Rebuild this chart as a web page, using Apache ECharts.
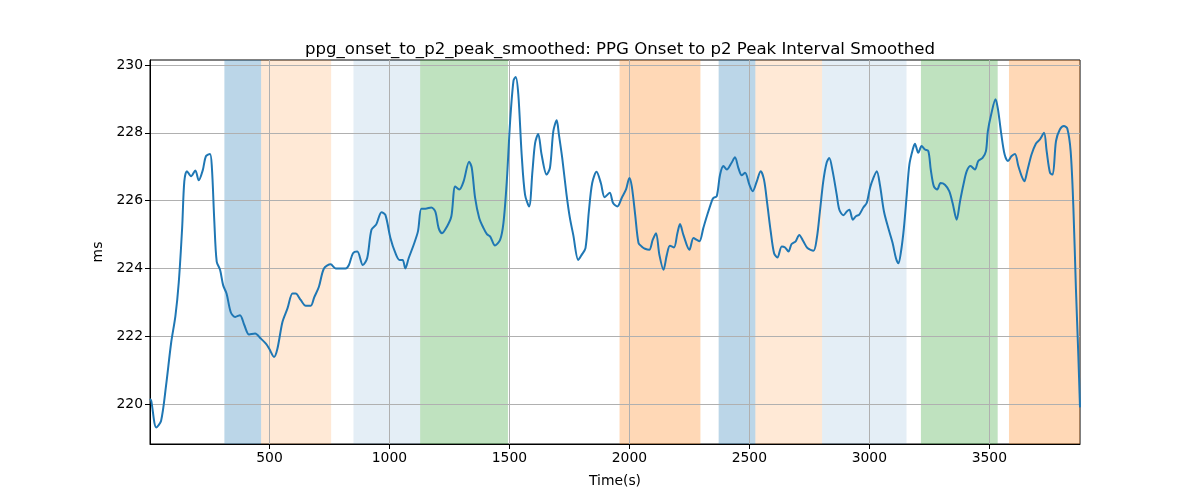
<!DOCTYPE html>
<html>
<head>
<meta charset="utf-8">
<script src="https://cdn.jsdelivr.net/npm/echarts@6/dist/echarts.min.js"></script>
<style>
html,body{margin:0;padding:0;background:#fff;}
#chart{width:1200px;height:500px;}
</style>
</head>
<body>
<div id="chart"></div>
<script>
// ---- data ----
const times = [2,7,28,48,69,90,108,122,136,145,156,173,191,205,222,235,252,260,270,280,294,307,321,339,357,377,395,415,440,464,485,499,519,533,554,575,596,609,630,651,672,686,706,727,755,776,817,831,848,866,889,907,925,945,967,983,1004,1025,1042,1055,1066,1080,1101,1119,1133,1150,1174,1191,1205,1219,1240,1258,1274,1291,1309,1332,1343,1357,1374,1392,1406,1420,1440,1461,1475,1489,1503,1517,1526,1537,1551,1565,1582,1596,1607,1620,1634,1655,1669,1683,1697,1706,1720,1738,1752,1766,1787,1801,1817,1831,1845,1863,1881,1897,1918,1932,1950,1968,1986,2000,2010,2024,2038,2051,2065,2083,2097,2111,2125,2142,2156,2169,2186,2200,2211,2225,2250,2267,2281,2292,2308,2325,2343,2350,2364,2378,2392,2406,2426,2440,2454,2468,2482,2500,2514,2531,2547,2561,2575,2589,2603,2617,2635,2649,2663,2676,2693,2708,2725,2742,2767,2781,2794,2808,2822,2833,2847,2864,2875,2892,2906,2917,2931,2944,2958,2975,2989,3003,3017,3031,3044,3061,3079,3097,3111,3121,3132,3144,3156,3167,3181,3190,3204,3218,3232,3246,3256,3269,3283,3297,3315,3333,3347,3364,3378,3392,3406,3422,3440,3454,3472,3486,3494,3508,3526,3536,3550,3564,3578,3592,3607,3621,3635,3646,3658,3676,3694,3711,3728,3739,3753,3764,3778,3794,3811,3825,3839,3850,3861,3871,3878];
const values = [220.15,220.1,219.31,219.5,220.55,221.8,222.6,223.6,225.2,226.57,226.87,226.72,226.89,226.6,226.9,227.31,227.38,226.97,225.4,224.2,223.96,223.5,223.26,222.7,222.57,222.62,222.33,222.05,222.08,221.93,221.78,221.63,221.39,221.63,222.42,222.82,223.26,223.26,223.07,222.9,222.9,223.14,223.46,224.0,224.12,224.0,224.0,224.1,224.45,224.5,224.1,224.3,225.14,225.3,225.66,225.58,224.9,224.45,224.25,224.25,224.0,224.3,224.7,225.1,225.76,225.76,225.8,225.68,225.19,225.04,225.24,225.54,226.42,226.33,226.57,227.15,226.97,226.08,225.49,225.19,225.01,224.94,224.68,224.84,225.34,226.57,228.35,229.54,229.65,229.14,227.36,226.18,225.83,226.87,227.7,227.97,227.36,226.77,226.97,228.05,228.37,227.96,227.26,226.18,225.49,224.99,224.25,224.4,224.6,225.68,226.52,226.85,226.52,226.1,226.23,225.93,225.83,226.08,226.33,226.67,226.42,225.59,224.75,224.65,224.58,224.55,224.84,225.04,224.4,223.96,224.4,224.67,224.62,225.04,225.31,224.99,224.55,224.9,224.84,224.8,225.19,225.59,225.98,226.08,226.13,226.77,227.02,226.92,227.12,227.28,226.97,226.75,226.82,226.47,226.28,226.57,226.87,226.62,225.88,225.09,224.45,224.32,224.65,224.62,224.5,224.72,224.8,224.99,224.8,224.6,224.52,224.89,225.68,226.57,227.12,227.26,226.87,226.18,225.73,225.57,225.68,225.73,225.44,225.54,225.59,225.8,225.93,226.38,226.67,226.87,226.47,225.68,225.19,224.75,224.3,224.15,224.5,225.19,226.18,227.07,227.51,227.68,227.41,227.61,227.51,227.46,226.92,226.42,226.33,226.52,226.47,226.28,225.93,225.44,225.98,226.47,226.87,227.02,226.92,227.17,227.26,227.46,228.05,228.55,228.99,228.7,227.96,227.36,227.17,227.31,227.38,227.02,226.72,226.57,226.87,227.36,227.68,227.81,228.0,227.46,226.82,226.77,227.76,228.1,228.2,228.13,227.46,225.88,223.41,221.44,219.9];
const bandStarts = [312,465,850,1128,1959,2372,2525,2803,3215,3582];
const bandEnds   = [465,757,1128,1494,2296,2525,2803,3155,3535,3878];
const bandColors = ['rgba(31,119,180,0.3)','rgba(255,127,14,0.17)','rgba(31,119,180,0.12)','rgba(44,160,44,0.3)','rgba(255,127,14,0.3)','rgba(31,119,180,0.3)','rgba(255,127,14,0.17)','rgba(31,119,180,0.12)','rgba(44,160,44,0.3)','rgba(255,127,14,0.3)'];
const xTicks = [500,1000,1500,2000,2500,3000,3500];
const yTicks = [220,222,224,226,228,230];
const titleText = 'ppg_onset_to_p2_peak_smoothed: PPG Onset to p2 Peak Interval Smoothed';

// ---- chart ----
const chart = echarts.init(document.getElementById('chart'), null, {renderer:'canvas'});
const font = 'DejaVu Sans';
const areas = bandStarts.map((s,i)=>[{xAxis:s,itemStyle:{color:bandColors[i]}},{xAxis:bandEnds[i]}]);
chart.setOption({
  animation:false,
  backgroundColor:'#fff',
  title:{text:titleText,left:615,textAlign:'center',top:36,textStyle:{fontFamily:font,fontSize:16.6,fontWeight:'normal',color:'#000'}},
  grid:{left:150,right:120,top:60,bottom:56,show:true,borderColor:'#000',borderWidth:1,backgroundColor:'transparent',z:0},
  xAxis:{type:'value',min:2,max:3878,z:2,name:'Time(s)',nameLocation:'middle',nameGap:30,
    nameTextStyle:{fontFamily:font,fontSize:13.9,color:'#000'},
    axisLine:{show:true,onZero:false,lineStyle:{color:'#000',width:1}},
    axisTick:{show:true,length:5,lineStyle:{color:'#000'},customValues:xTicks},
    axisLabel:{fontFamily:font,fontSize:13.9,color:'#000',margin:7,customValues:xTicks,formatter:v=>String(v)},
    splitLine:{show:true,lineStyle:{color:'#b0b0b0',width:1}}},
  yAxis:{type:'value',min:218.82,max:230.15,z:2,name:'ms',nameLocation:'middle',nameGap:44,
    nameTextStyle:{fontFamily:font,fontSize:13.9,color:'#000'},
    axisLine:{show:true,onZero:false,lineStyle:{color:'#000',width:1}},
    axisTick:{show:true,length:5,lineStyle:{color:'#000'},customValues:yTicks},
    axisLabel:{fontFamily:font,fontSize:13.9,color:'#000',margin:7,customValues:yTicks,formatter:v=>String(v)},
    splitLine:{show:true,lineStyle:{color:'#b0b0b0',width:1}}},
  series:[{
    type:'line',data:times.map((t,i)=>[t,values[i]]),showSymbol:false,smooth:0.3,
    lineStyle:{color:'#1f77b4',width:2},z:3,
    markArea:{silent:true,z:1,data:areas}
  }]
});
</script>
</body>
</html>
